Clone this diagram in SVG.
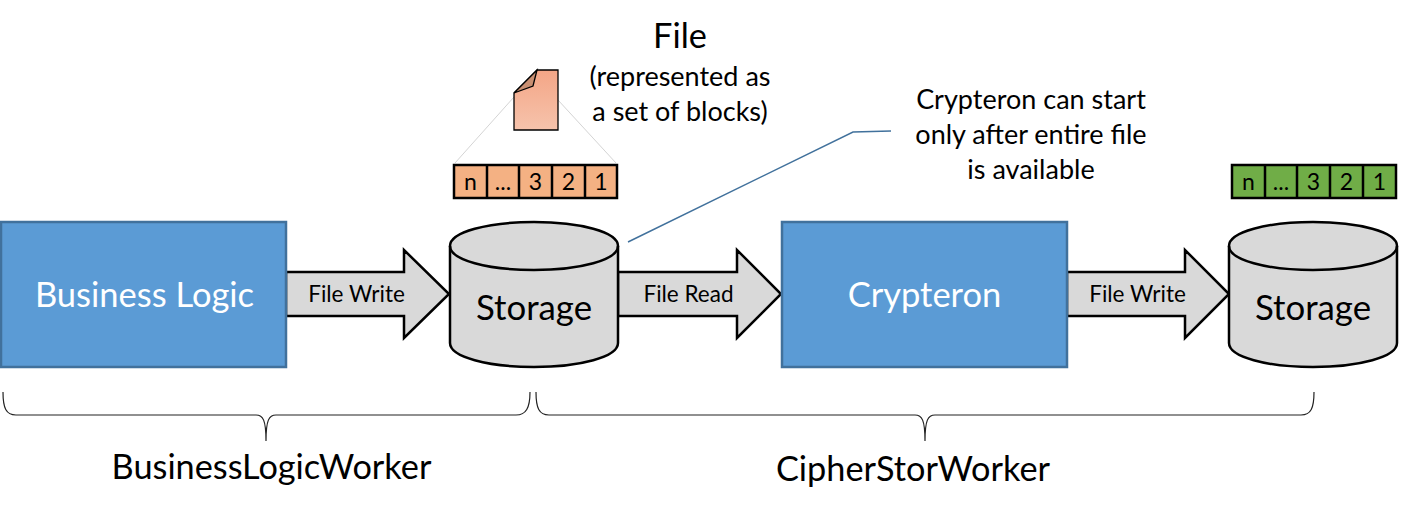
<svg xmlns="http://www.w3.org/2000/svg" width="1401" height="513" viewBox="0 0 1401 513">
<style>
text{font-family:Lato,"Open Sans","Liberation Sans",sans-serif;text-anchor:middle;fill:#000}
.box{fill:#5b9bd5;stroke:#41719c;stroke-width:2.5}
.w{fill:#fff;font-size:34.500px}
.cyl{fill:#d9d9d9;stroke:#000;stroke-width:2.5}
.top{fill:none;stroke:#000;stroke-width:2.5}
.arr{fill:#d9d9d9;stroke:#000;stroke-width:2.5;stroke-linejoin:miter}
.al{font-size:22.500px}
.st{font-size:34.800px}
.bk{stroke:#000;stroke-width:2.5}
.bt{font-size:23px}
.br{fill:none;stroke:#222;stroke-width:1.2}
.big{font-size:34.300px}
.mid{font-size:27px}
</style>
<defs>
<linearGradient id="fg" x1="0" y1="0" x2="0" y2="1"><stop offset="0" stop-color="#f4a586"/><stop offset="1" stop-color="#f6c3ac"/></linearGradient>
</defs>
<g id="connectors">
<path class="arr" d="M286 272H404V250L449 294L404 338V316H286Z"/>
<path class="arr" d="M618 272H737V250L781 294L737 338V316H618Z"/>
<path class="arr" d="M1067 272H1185V250L1229 294L1185 338V316H1067Z"/>
<path d="M628 242L853 132L891 131" fill="none" stroke="#41719c" stroke-width="1.5"/>
<path d="M514 97L455 163M558 100L616 163" fill="none" stroke="#d4d4d4" stroke-width="1"/>
<path class="br" d="M3 392C3 408 6 415 16 415H256C263 415 266 420 266 441C266 420 269 415 276 415H516C526 415 530 408 530 392"/>
<path class="br" d="M536 392C536 408 539 415 549 415H915C922 415 925 420 925 441C925 420 928 415 935 415H1301C1311 415 1314 408 1314 392"/>
</g>
<g id="business-logic"><rect class="box" x="1" y="222" width="285" height="145"/><text class="w" x="144.500" y="307">Business Logic</text></g>
<g id="crypteron"><rect class="box" x="782" y="222" width="285" height="145"/><text class="w" x="924.500" y="307">Crypteron</text></g>
<g id="storage-1"><path class="cyl" d="M450 246C450 232 488 222 534 222S618 232 618 246V343C618 357 580 367 534 367S450 357 450 343Z"/><path class="top" d="M450 246C450 260 488 270 534 270S618 260 618 246"/><text class="st" x="534" y="320">Storage</text></g>
<g id="storage-2"><path class="cyl" d="M1229 246C1229 232 1267 222 1313 222S1397 232 1397 246V343C1397 357 1359 367 1313 367S1229 357 1229 343Z"/><path class="top" d="M1229 246C1229 260 1267 270 1313 270S1397 260 1397 246"/><text class="st" x="1313" y="320">Storage</text></g>
<g id="arrow-labels"><text class="al" x="356.500" y="302">File Write</text><text class="al" x="688.500" y="302">File Read</text><text class="al" x="1137.500" y="302">File Write</text></g>
<g id="file-icon"><path d="M537 70H558V130H514V93Z" fill="url(#fg)" stroke="#000" stroke-width="1.3"/><path d="M537 70L533 86L514 93Z" fill="#c98f72" stroke="#000" stroke-width="1.3"/></g>
<g id="file-label"><text class="big" x="680" y="48">File</text><text class="mid" x="680" y="86">(represented as</text><text class="mid" x="680" y="121">a set of blocks)</text></g>
<g id="blocks-orange"><path class="bk" fill="#f4b183" d="M454 165H617V198H454ZM487 165V198M519 165V198M552 165V198M585 165V198"/>
<text class="bt" x="470.500" y="190">n</text><text class="bt" x="503" y="190">...</text><text class="bt" x="535.500" y="190">3</text><text class="bt" x="568.500" y="190">2</text><text class="bt" x="601" y="190">1</text></g>
<g id="blocks-green"><path class="bk" fill="#70ad47" d="M1232 165H1396V198H1232ZM1265 165V198M1297 165V198M1330 165V198M1363 165V198"/>
<text class="bt" x="1248.500" y="190">n</text><text class="bt" x="1281" y="190">...</text><text class="bt" x="1313.500" y="190">3</text><text class="bt" x="1346.500" y="190">2</text><text class="bt" x="1379.500" y="190">1</text></g>
<g id="callout-label"><text class="mid" x="1031" y="109">Crypteron can start</text><text class="mid" x="1031" y="144">only after entire file</text><text class="mid" x="1031" y="179">is available</text></g>
<g id="worker-labels"><text class="big" x="271.500" y="479">BusinessLogicWorker</text><text class="big" x="913" y="481">CipherStorWorker</text></g>
</svg>
